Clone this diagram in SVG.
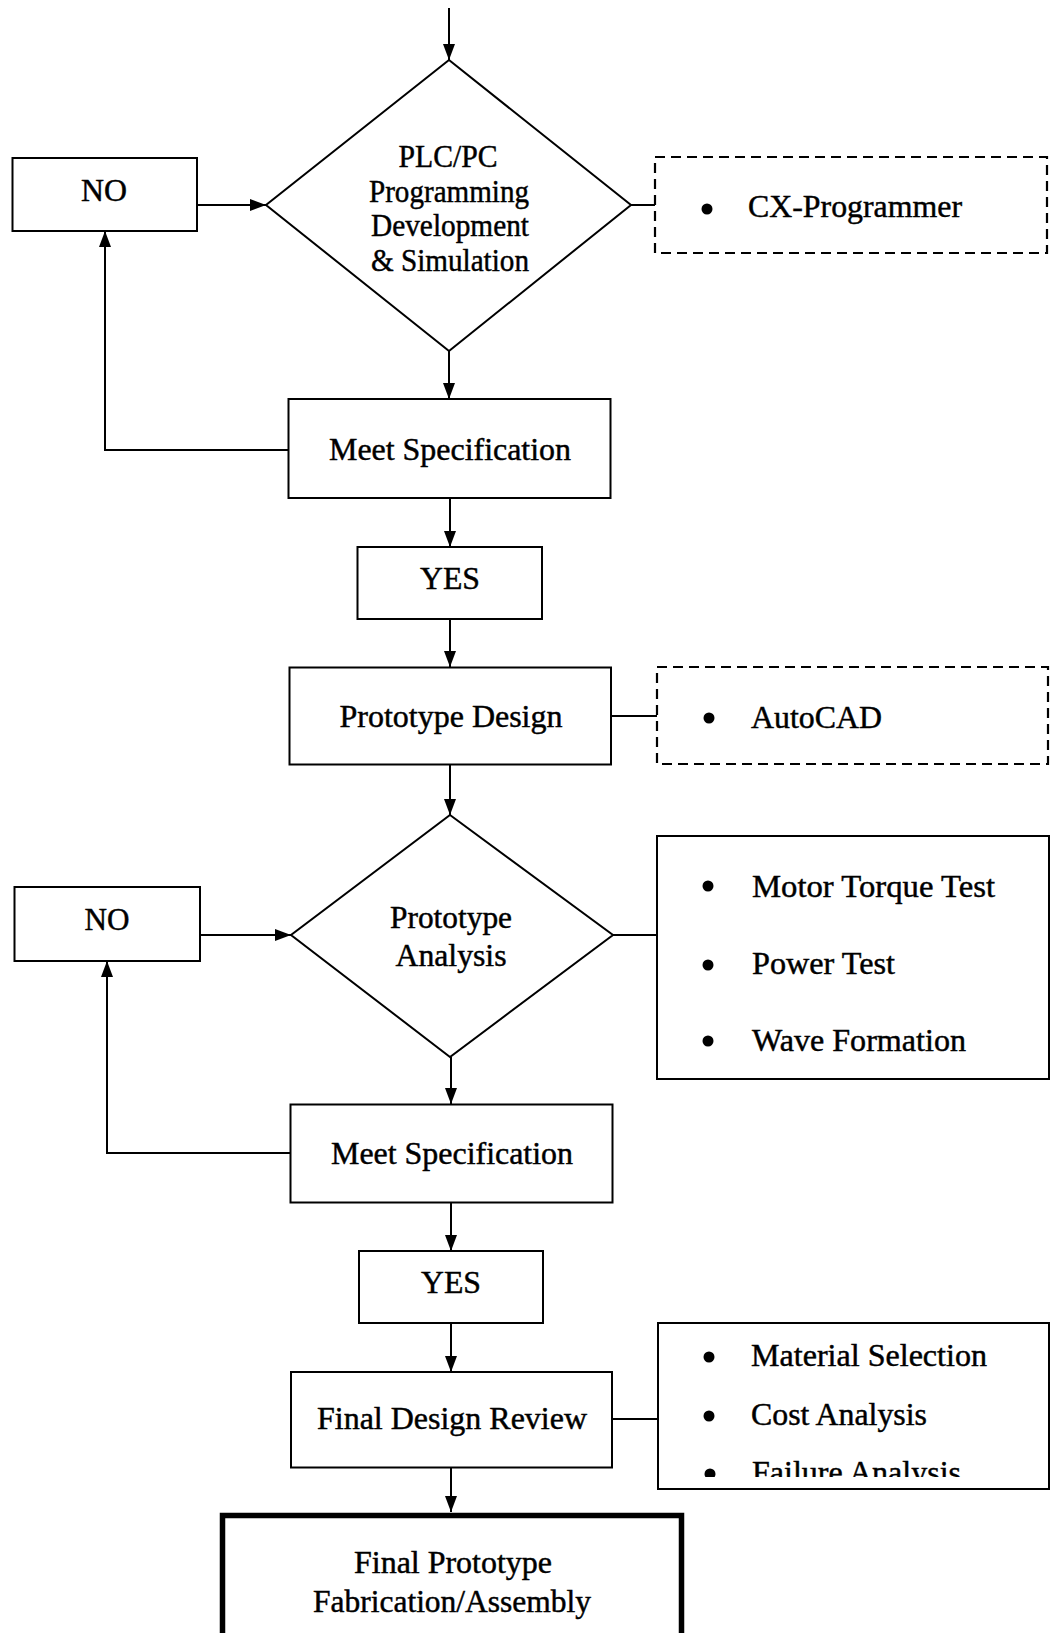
<svg xmlns="http://www.w3.org/2000/svg" width="1051" height="1633" viewBox="0 0 1051 1633">
  <style>
    .box { fill: #fff; stroke: #000; stroke-width: 2; }
    .dash { fill: #fff; stroke: #000; stroke-width: 2.2; stroke-dasharray: 10 6; }
    .thick { fill: #fff; stroke: #000; stroke-width: 5.5; }
    .wire { fill: none; stroke: #000; stroke-width: 2; }
    .lbl { font-family: "Liberation Serif", "Times New Roman", serif; font-size: 31px; fill: #000; stroke: #000; stroke-width: 0.45; }
    .mid { text-anchor: middle; }
    .dot { fill: #000; }
  </style>
  <defs>
    <marker id="arrow" markerUnits="userSpaceOnUse" markerWidth="16" markerHeight="14" viewBox="0 0 16 14" refX="16" refY="7" orient="auto">
      <path d="M0,1 L16,7 L0,13 Z" fill="#000"/>
    </marker>
    <clipPath id="listClip">
      <rect x="660" y="1325" width="387" height="152"/>
    </clipPath>
  </defs>
  <rect width="1051" height="1633" fill="#fff"/>

  <!-- connectors -->
  <g id="connectors">
    <line class="wire" x1="449" y1="8" x2="449" y2="60" marker-end="url(#arrow)"/>
    <line class="wire" x1="197" y1="205" x2="266" y2="205" marker-end="url(#arrow)"/>
    <line class="wire" x1="449" y1="351" x2="449" y2="399" marker-end="url(#arrow)"/>
    <polyline class="wire" points="288,450 105,450 105,231" marker-end="url(#arrow)"/>
    <line class="wire" x1="631" y1="205" x2="655" y2="205"/>
    <line class="wire" x1="450" y1="498" x2="450" y2="547" marker-end="url(#arrow)"/>
    <line class="wire" x1="450" y1="619" x2="450" y2="667" marker-end="url(#arrow)"/>
    <line class="wire" x1="611" y1="716" x2="657" y2="716"/>
    <line class="wire" x1="450" y1="765" x2="450" y2="815" marker-end="url(#arrow)"/>
    <line class="wire" x1="200" y1="935" x2="291" y2="935" marker-end="url(#arrow)"/>
    <line class="wire" x1="613" y1="935" x2="657" y2="935"/>
    <line class="wire" x1="451" y1="1057" x2="451" y2="1104" marker-end="url(#arrow)"/>
    <polyline class="wire" points="290,1153 107,1153 107,961" marker-end="url(#arrow)"/>
    <line class="wire" x1="451" y1="1202" x2="451" y2="1251" marker-end="url(#arrow)"/>
    <line class="wire" x1="451" y1="1323" x2="451" y2="1372" marker-end="url(#arrow)"/>
    <line class="wire" x1="612" y1="1419" x2="658" y2="1419"/>
    <line class="wire" x1="451" y1="1467" x2="451" y2="1512" marker-end="url(#arrow)"/>
  </g>

  <!-- programming stage -->
  <g id="plc-decision">
    <polygon class="box" points="449,60 631,205 449,351 266,205"/>
    <text class="lbl mid" x="448" y="167" textLength="99" lengthAdjust="spacingAndGlyphs">PLC/PC</text>
    <text class="lbl mid" x="449" y="202" textLength="160" lengthAdjust="spacingAndGlyphs">Programming</text>
    <text class="lbl mid" x="450" y="236" textLength="158" lengthAdjust="spacingAndGlyphs">Development</text>
    <text class="lbl mid" x="450" y="271" textLength="158" lengthAdjust="spacingAndGlyphs">&amp; Simulation</text>
  </g>
  <g id="no-1">
    <rect class="box" x="12.5" y="158" width="184.5" height="73"/>
    <text class="lbl mid" x="104" y="201" textLength="46" lengthAdjust="spacingAndGlyphs">NO</text>
  </g>
  <g id="tool-cx">
    <rect class="dash" x="655" y="157" width="392" height="96"/>
    <circle class="dot" cx="707" cy="209" r="5.5"/>
    <text class="lbl" x="748" y="217" textLength="214" lengthAdjust="spacingAndGlyphs">CX-Programmer</text>
  </g>
  <g id="meet-spec-1">
    <rect class="box" x="288.5" y="399" width="322" height="99"/>
    <text class="lbl mid" x="450" y="459.5" textLength="242" lengthAdjust="spacingAndGlyphs">Meet Specification</text>
  </g>
  <g id="yes-1">
    <rect class="box" x="357.5" y="547" width="184.5" height="72"/>
    <text class="lbl mid" x="450" y="588.5" textLength="60" lengthAdjust="spacingAndGlyphs">YES</text>
  </g>

  <!-- prototype stage -->
  <g id="prototype-design">
    <rect class="box" x="289.5" y="667.5" width="321.5" height="97"/>
    <text class="lbl mid" x="451" y="726.5" textLength="223" lengthAdjust="spacingAndGlyphs">Prototype Design</text>
  </g>
  <g id="tool-autocad">
    <rect class="dash" x="657" y="667" width="391" height="97"/>
    <circle class="dot" cx="709" cy="718" r="5.5"/>
    <text class="lbl" x="751" y="727.5" textLength="131" lengthAdjust="spacingAndGlyphs">AutoCAD</text>
  </g>
  <g id="analysis-decision">
    <polygon class="box" points="450,815 613,935 450,1057 291,935"/>
    <text class="lbl mid" x="451" y="927.5" textLength="122" lengthAdjust="spacingAndGlyphs">Prototype</text>
    <text class="lbl mid" x="451" y="965.5" textLength="111" lengthAdjust="spacingAndGlyphs">Analysis</text>
  </g>
  <g id="no-2">
    <rect class="box" x="14.5" y="887" width="185.5" height="74"/>
    <text class="lbl mid" x="107" y="929.5" textLength="45" lengthAdjust="spacingAndGlyphs">NO</text>
  </g>
  <g id="tests">
    <rect class="box" x="657" y="836" width="392" height="243"/>
    <circle class="dot" cx="708" cy="886" r="5.5"/>
    <text class="lbl" x="752" y="896.5" textLength="243" lengthAdjust="spacingAndGlyphs">Motor Torque Test</text>
    <circle class="dot" cx="708" cy="965" r="5.5"/>
    <text class="lbl" x="752" y="973.5" textLength="143" lengthAdjust="spacingAndGlyphs">Power Test</text>
    <circle class="dot" cx="708" cy="1041" r="5.5"/>
    <text class="lbl" x="752" y="1050.5" textLength="214" lengthAdjust="spacingAndGlyphs">Wave Formation</text>
  </g>
  <g id="meet-spec-2">
    <rect class="box" x="290.5" y="1104.5" width="322" height="98"/>
    <text class="lbl mid" x="452" y="1163.5" textLength="242" lengthAdjust="spacingAndGlyphs">Meet Specification</text>
  </g>
  <g id="yes-2">
    <rect class="box" x="359" y="1251" width="184" height="72"/>
    <text class="lbl mid" x="451" y="1292.5" textLength="60" lengthAdjust="spacingAndGlyphs">YES</text>
  </g>

  <!-- final stage -->
  <g id="final-review">
    <rect class="box" x="291" y="1372" width="321" height="95.5"/>
    <text class="lbl mid" x="452" y="1428.5" textLength="270" lengthAdjust="spacingAndGlyphs">Final Design Review</text>
  </g>
  <g id="review-items">
    <rect class="box" x="658" y="1323" width="391" height="166"/>
    <g clip-path="url(#listClip)">
      <circle class="dot" cx="709" cy="1357" r="5.5"/>
      <text class="lbl" x="751" y="1365.5" textLength="236" lengthAdjust="spacingAndGlyphs">Material Selection</text>
      <circle class="dot" cx="709" cy="1416" r="5.5"/>
      <text class="lbl" x="751" y="1424.5" textLength="176" lengthAdjust="spacingAndGlyphs">Cost Analysis</text>
      <circle class="dot" cx="710" cy="1474" r="5.5"/>
      <text class="lbl" x="752" y="1483" textLength="209" lengthAdjust="spacingAndGlyphs">Failure Analysis</text>
    </g>
  </g>
  <g id="final-fabrication">
    <rect class="thick" x="222.5" y="1515.5" width="459" height="140"/>
    <text class="lbl mid" x="453" y="1572.5" textLength="198" lengthAdjust="spacingAndGlyphs">Final Prototype</text>
    <text class="lbl mid" x="452" y="1611.5" textLength="278" lengthAdjust="spacingAndGlyphs">Fabrication/Assembly</text>
  </g>
</svg>
